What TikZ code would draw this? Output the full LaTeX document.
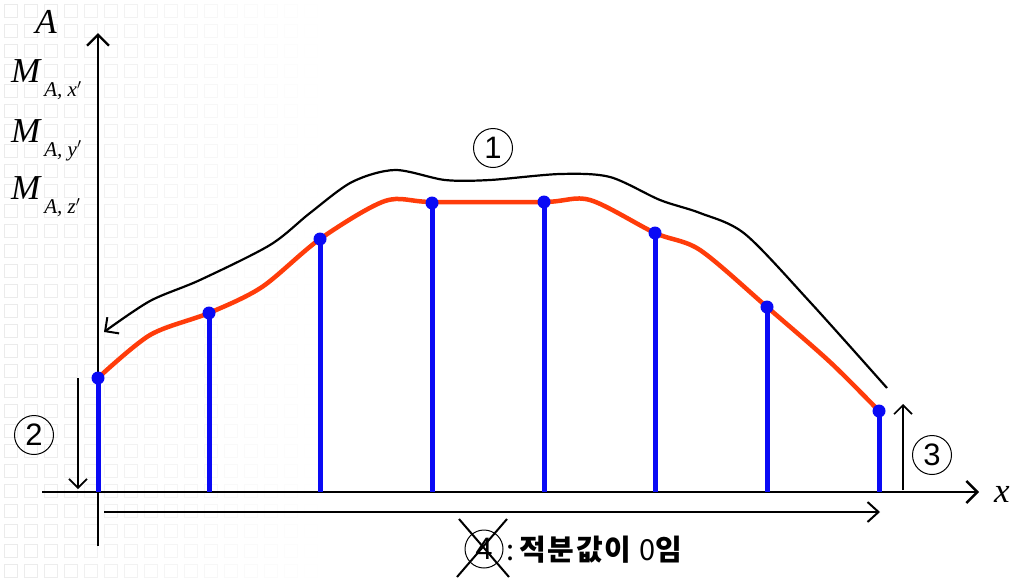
\documentclass[tikz,border=0pt]{standalone}
\usepackage{fontspec}
\setmainfont{Liberation Serif}
\setsansfont{Liberation Sans}
\newfontfamily\krfont{Noto Sans CJK KR}
\usepackage{tikz}
\usetikzlibrary{arrows.meta, positioning, calc}
\definecolor{curvered}{RGB}{255,60,10}
\definecolor{stemblue}{RGB}{10,10,245}

\begin{document}
\begin{tikzpicture}[x=1pt, y=-1pt,
  axis/.style={line width=2.6pt, -{Straight Barb[length=11pt, width=22pt, line width=2.4pt]}},
  marker/.style={line width=1.6pt, -{Straight Barb[length=9pt, width=18pt, line width=1.6pt]}},
  stem/.style={line width=5pt, stemblue},
  dot/.style={circle, fill=stemblue, inner sep=0pt, minimum size=13pt},
  num/.style={circle, draw, line width=1pt, inner sep=0pt, minimum size=39pt,
              font=\sffamily\fontsize{31}{31}\selectfont},
  lbl/.style={font=\fontsize{35}{35}\selectfont\itshape, inner sep=0pt},
]
\useasboundingbox (0,0) rectangle (1012,579);
\fill[white] (0,0) rectangle (1012,579);

% faint background tiles
\foreach \i in {0,...,15} {
  \foreach \j in {0,...,28} {
    \pgfmathsetmacro{\shade}{max(0, 8 - 0.5*\i)}
    \draw[black!\shade, line width=0.8pt] (4+20*\i, 4+20*\j) rectangle ++(13,13);
  }
}

% axes
\coordinate (orig) at (98,492);
\coordinate (ytop) at (98,33);
\coordinate (ybot) at (98,546);
\coordinate (xleft) at (42,492);
\coordinate (xright) at (979,492);
\draw[axis] (ybot) -- (ytop);
\draw[axis] (xleft) -- (xright);
\node[lbl] (xlab) at (1002,494) {x};
\node[lbl] (alab) at (46,22) {A};
\node[lbl, anchor=west] (mx) at (11,80) {M\hspace{4pt}\raisebox{-14pt}{\fontsize{21}{21}\selectfont A, x$'$}};
\node[lbl, anchor=west] (my) at (11,140) {M\hspace{4pt}\raisebox{-14pt}{\fontsize{21}{21}\selectfont A, y$'$}};
\node[lbl, anchor=west] (mz) at (11,197) {M\hspace{4pt}\raisebox{-14pt}{\fontsize{21}{21}\selectfont A, z$'$}};

% stem tops
\coordinate (p1) at (98,378);
\coordinate (p2) at (209,313);
\coordinate (p3) at (320,239);
\coordinate (p4) at (432,203);
\coordinate (p5) at (544,202);
\coordinate (p6) at (655,233);
\coordinate (p7) at (767,307);
\coordinate (p8) at (879,411);

% red curve
\draw[curvered, line width=4.5pt, line cap=round] plot[smooth, tension=0.5] coordinates {
  (98,378) (150,335) (209,313) (262,287) (320,239) (385,201) (432,202)
  (544,202) (590,200) (655,233) (700,250) (767,307) (830,362) (879,411)};

% stems and dots
\foreach \k in {1,...,8} {
  \draw[stem] (p\k) -- (p\k |- orig);
  \node[dot] (d\k) at (p\k) {};
}

% curve 1
\coordinate (c1s) at (887,388);
\coordinate (c1e) at (104,332);
\draw[line width=2.2pt, -{Straight Barb[length=10pt, width=20pt, line width=2pt]}]
  plot[smooth, tension=0.5] coordinates {
  (887,388) (810,302) (745,234) (700,213) (660,200) (610,177) (560,174)
  (490,180) (445,180) (395,170) (352,182) (310,213) (270,245) (200,280) (150,301) (104,332)};
\node[num] (n1) at (493,148) {1};

% arrow 2
\coordinate (a2s) at (78,378);
\coordinate (a2e) at (78,489);
\draw[marker] (a2s) -- (a2e);
\node[num] (n2) at (34,435) {2};

% arrow 3
\coordinate (a3s) at (903,490);
\coordinate (a3e) at (903,404);
\draw[marker] (a3s) -- (a3e);
\node[num] (n3) at (932,455) {3};

% arrow 4
\coordinate (a4s) at (104,512);
\coordinate (a4e) at (880,512);
\draw[line width=2pt, -{Straight Barb[length=11pt, width=20pt, line width=2pt]}] (a4s) -- (a4e);
\node[num, minimum size=38pt] (n4) at (484,549) {4};
\draw[line width=2pt] (459,519) -- (509,577);
\draw[line width=2pt] (507,519) -- (457,577);
\node[anchor=west, inner sep=0pt, font=\krfont\fontsize{29}{29}\selectfont] (txt4) at (506,550)
  {:\hspace{5pt}\addfontfeature{LetterSpace=6}{\bfseries 적분값이} 0{\bfseries 임}};
\end{tikzpicture}
\end{document}
